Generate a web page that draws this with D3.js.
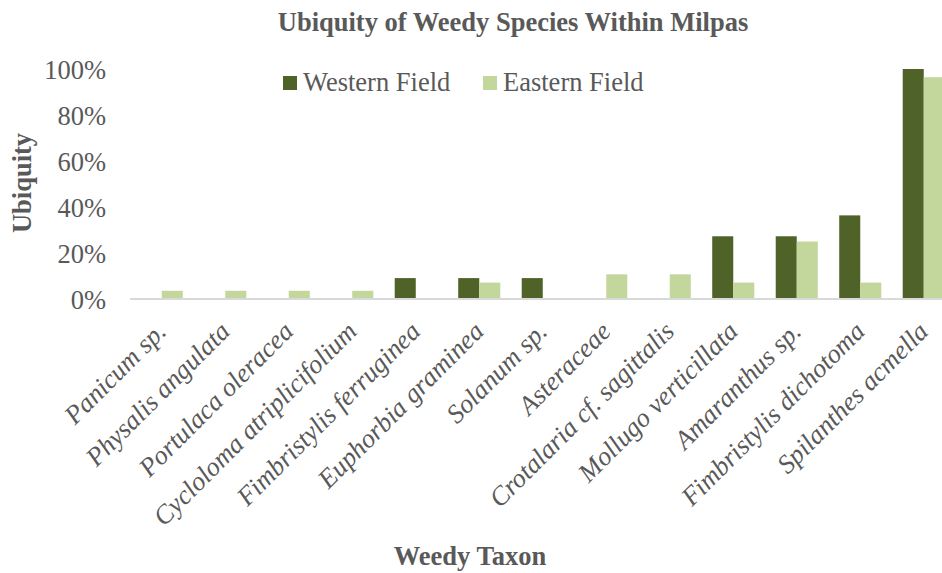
<!DOCTYPE html>
<html><head><meta charset="utf-8">
<script src="https://cdn.jsdelivr.net/npm/d3@7"></script>
<style>body{margin:0;background:#fff}svg{display:block}</style>
</head><body>
<svg id="chart" width="942" height="573"></svg>
<script>
const categories = ["Panicum sp.","Physalis angulata","Portulaca oleracea","Cycloloma atriplicifolium","Fimbristylis ferruginea","Euphorbia graminea","Solanum sp.","Asteraceae","Crotalaria cf. sagittalis","Mollugo verticillata","Amaranthus sp.","Fimbristylis dichotoma","Spilanthes acmella"];
const seriesNames = ["Western Field","Eastern Field"];
const western = [0,0,0,0,0.0909,0.0909,0.0909,0,0,0.2727,0.2727,0.3636,1.0];
const eastern = [0.0357,0.0357,0.0357,0.0357,0,0.0714,0,0.1071,0.1071,0.0714,0.25,0.0714,0.9643];
const yTicks = [0,0.2,0.4,0.6,0.8,1.0];
const colors = ["#4f6228","#c3d69b"];

const svg = d3.select("#chart");
const font = "'Liberation Serif','Times New Roman',serif";
const textColor = "#595959";

const x0 = d3.scaleBand().domain(categories).range([130, 955.5]).padding(0);
const x1 = d3.scaleBand().domain(seriesNames).range([0, x0.bandwidth()]).paddingInner(0).paddingOuter(0.51);
const y = d3.scaleLinear().domain([0, 1]).range([299, 69]);

const data = categories.map((c, i) => ({cat: c, vals: [western[i], eastern[i]]}));

// bars
const g = svg.append("g");
data.forEach(d => {
  d.vals.forEach((v, j) => {
    if (v <= 0) return;
    g.append("rect")
      .attr("x", x0(d.cat) + x1(seriesNames[j]))
      .attr("y", y(v))
      .attr("width", x1.bandwidth())
      .attr("height", y(0) - y(v))
      .attr("fill", colors[j]);
  });
});

// x axis line
svg.append("line").attr("x1", 130).attr("x2", 955).attr("y1", y(0)).attr("y2", y(0))
  .attr("stroke", "#d9d9d9").attr("stroke-width", 2);

// y axis labels
const yAxis = d3.axisLeft(y).tickValues(yTicks).tickFormat(d3.format(".0%")).tickSize(0).tickPadding(0);
const ya = svg.append("g").attr("transform", "translate(106,0)").call(yAxis);
ya.select(".domain").remove();
ya.selectAll("text").attr("font-family", font).attr("font-size", 26.5).attr("fill", textColor).attr("dy", "0.34em");

// x category labels
svg.append("g").selectAll("text").data(categories).join("text")
  .attr("transform", d => `translate(${x0(d) + x0.bandwidth()/2 + 6},333) rotate(-45)`)
  .attr("text-anchor", "end")
  .attr("font-family", font).attr("font-style", "italic").attr("font-size", 26.5)
  .attr("fill", textColor)
  .text(d => d);

// title
svg.append("text").attr("x", 513).attr("y", 31).attr("text-anchor", "middle")
  .attr("font-family", font).attr("font-weight", "bold").attr("font-size", 26.5).attr("fill", textColor)
  .text("Ubiquity of Weedy Species Within Milpas");

// axis titles
svg.append("text").attr("x", 470).attr("y", 565).attr("text-anchor", "middle")
  .attr("font-family", font).attr("font-weight", "bold").attr("font-size", 26.5).attr("fill", textColor)
  .text("Weedy Taxon");
svg.append("text").attr("transform", "translate(31,183) rotate(-90)").attr("text-anchor", "middle")
  .attr("font-family", font).attr("font-weight", "bold").attr("font-size", 26.5).attr("fill", textColor)
  .text("Ubiquity");

// legend
const legendX = [283, 483];
seriesNames.forEach((s, j) => {
  svg.append("rect").attr("x", legendX[j]).attr("y", 76).attr("width", 14).attr("height", 14).attr("fill", colors[j]);
  svg.append("text").attr("x", legendX[j] + 20).attr("y", 91)
    .attr("font-family", font).attr("font-size", 26.5).attr("fill", textColor).text(s);
});
</script>
</body></html>
